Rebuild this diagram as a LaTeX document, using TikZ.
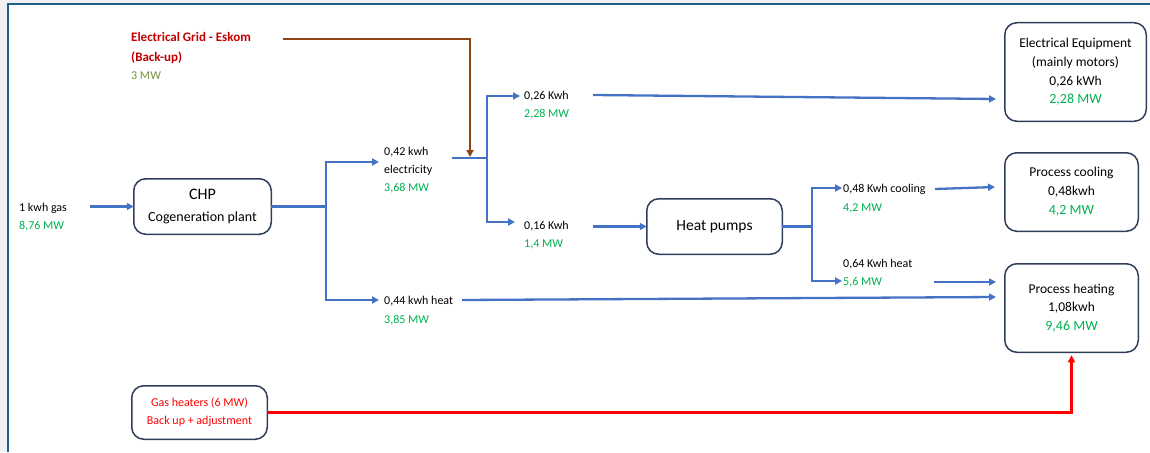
\documentclass[tikz,border=0pt]{standalone}
\usepackage{fontspec}
\setmainfont{Carlito}
\usetikzlibrary{arrows.meta}
\definecolor{flowblue}{RGB}{68,114,196}
\definecolor{mwgreen}{RGB}{0,176,80}
\definecolor{olivegreen}{RGB}{118,146,60}
\definecolor{eskomred}{RGB}{192,0,0}
\definecolor{boxline}{RGB}{47,60,90}
\definecolor{gridbrown}{RGB}{140,70,20}
\definecolor{framecol}{RGB}{31,95,135}
\begin{document}
\begin{tikzpicture}[x=1pt,y=-1pt,
  box/.style={draw=boxline, line width=1.5pt, rounded corners=12pt, align=center, inner sep=0pt, outer sep=0pt},
  lbl/.style={anchor=north west, align=left, inner sep=0pt, font=\fontsize{12}{18}\selectfont},
  tip/.style={-{Triangle[length=7pt,width=7pt]}},
  fline/.style={draw=flowblue, line width=2.3pt},
  flow/.style={fline, tip},
]
\useasboundingbox (0,0) rectangle (1150,452);
\fill[gray!12] (0,0) rectangle (1150,3);
\fill[gray!12] (0,0) rectangle (7,452);
\draw[framecol, line width=2pt] (8,452) -- (8,4.5) -- (1150,4.5);

% boxes
\node[box, minimum width=137.5pt, minimum height=55.5pt, font=\fontsize{14}{22}\selectfont] (chp) at (202.5,206.5)
  {{\fontsize{16}{16}\selectfont CHP}\\Cogeneration plant};
\node[box, minimum width=135.5pt, minimum height=55.5pt, font=\fontsize{15.5}{18}\selectfont] (hp) at (714.5,226.5) {Heat pumps};
\node[box, minimum width=141.5pt, minimum height=98.5pt, font=\fontsize{13.5}{18.7}\selectfont] (ee) at (1075.5,72)
  {Electrical Equipment\\(mainly motors)\\0,26 kWh\\{\fontsize{14}{14}\selectfont\color{mwgreen}2,28 MW}};
\node[box, minimum width=133.5pt, minimum height=78.5pt, font=\fontsize{13.5}{19}\selectfont] (pc) at (1071.5,192)
  {Process cooling\\0,48kwh\\{\fontsize{14}{14}\selectfont\color{mwgreen}4,2 MW}};
\node[box, minimum width=133.5pt, minimum height=88.5pt, font=\fontsize{13.5}{18.5}\selectfont] (ph) at (1071.5,308)
  {Process heating\\1,08kwh\\{\fontsize{14}{14}\selectfont\color{mwgreen}9,46 MW}};
\node[box, minimum width=135.5pt, minimum height=53.5pt, font=\fontsize{12}{18}\selectfont, text=red] (gh) at (199.5,412.5)
  {Gas heaters (6 MW)\\Back up + adjustment};

% labels
\node[anchor=north west, align=left, inner sep=0pt, font=\fontsize{13}{20}\selectfont\bfseries, text=eskomred] (grid) at (131,27)
  {\strut Electrical Grid - Eskom\\(Back-up)\\[-2pt]{\mdseries\fontsize{12}{12}\selectfont\color{olivegreen}3 MW}};
\node[lbl] (gas) at (19,198.4) {\strut 1 kwh gas\\\textcolor{mwgreen}{8,76 MW}};
\node[lbl] (e42) at (384,142.4) {\strut 0,42 kwh\\electricity\\\textcolor{mwgreen}{3,68 MW}};
\node[lbl] (h44) at (384,291.4) {\strut 0,44 kwh heat\\[1pt]\textcolor{mwgreen}{3,85 MW}};
\node[lbl] (k26) at (524,86.4) {\strut 0,26 Kwh\\\textcolor{mwgreen}{2,28 MW}};
\node[lbl] (k16) at (524,216.4) {\strut 0,16 Kwh\\\textcolor{mwgreen}{1,4 MW}};
\node[lbl] (c48) at (843,179.4) {\strut 0,48 Kwh cooling\\[1pt]\textcolor{mwgreen}{4,2 MW}};
\node[lbl] (h64) at (843,254.4) {\strut 0,64 Kwh heat\\\textcolor{mwgreen}{5,6 MW}};

% coordinates
\coordinate (gasS) at (90,206.5);
\coordinate (j1) at (326,206.5);
\coordinate (e42end) at (379,162);
\coordinate (h44end) at (379,300);
\coordinate (elS) at (452,158);
\coordinate (j2) at (487,158);
\coordinate (k26end) at (520,96);
\coordinate (k16end) at (515,222);
\coordinate (gridS) at (283,39);
\coordinate (gridE) at (470,157);
\coordinate (k26S) at (593,95);
\coordinate (eeIn) at (996,99);
\coordinate (k16S) at (593,226.5);
\coordinate (j3) at (812,226.5);
\coordinate (c48end) at (842,188);
\coordinate (h64end) at (842,281);
\coordinate (c48S) at (935,189);
\coordinate (pcIn) at (995,187);
\coordinate (h64S) at (934,282);
\coordinate (phIn1) at (996,282);
\coordinate (h44S) at (462,300);
\coordinate (phIn2) at (996,297);

% connectors
\draw[flow] (gasS) -- (chp.west);
\draw[fline] (chp.east) -- (j1);
\draw[flow] (j1) |- (e42end);
\draw[flow] (j1) |- (h44end);
\draw[fline] (elS) -- (j2);
\draw[flow] (j2) |- (k26end);
\draw[flow] (j2) |- (k16end);
\draw[gridbrown, line width=2.3pt, tip] (gridS) -| (gridE);
\draw[flow] (k26S) -- (eeIn);
\draw[flow] (k16S) -- (hp.west);
\draw[fline] (hp.east) -- (j3);
\draw[flow] (j3) |- (c48end);
\draw[flow] (j3) |- (h64end);
\draw[flow] (c48S) -- (pcIn);
\draw[flow] (h64S) -- (phIn1);
\draw[flow] (h44S) -- (phIn2);
\draw[red, line width=2.3pt, tip, shorten >=3pt] (gh.east) -| (ph.south);
\end{tikzpicture}
\end{document}
